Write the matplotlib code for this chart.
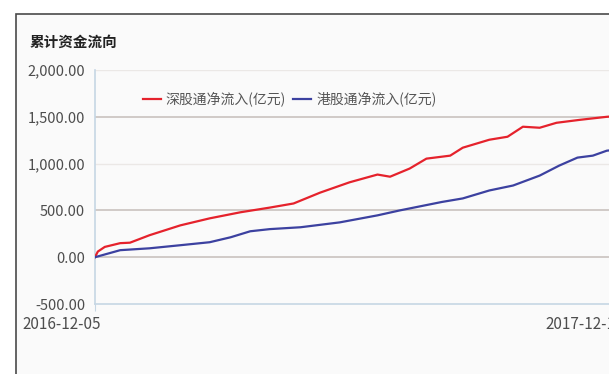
import pandas as pd
import matplotlib.pyplot as plt
from matplotlib.patches import Rectangle
from matplotlib.ticker import FuncFormatter

plt.rcParams['font.family'] = ['Noto Sans CJK SC', 'DejaVu Sans']

# 深股通 cumulative net inflow (亿元)
sz_dates = ['2016-12-05', '2016-12-07', '2016-12-12', '2016-12-23', '2016-12-30',
            '2017-01-13', '2017-02-04', '2017-02-25', '2017-03-19', '2017-04-09',
            '2017-04-26', '2017-05-15', '2017-06-05', '2017-06-25', '2017-07-04',
            '2017-07-18', '2017-07-30', '2017-08-16', '2017-08-25', '2017-09-13',
            '2017-09-26', '2017-10-07', '2017-10-19', '2017-10-31', '2017-11-17',
            '2017-12-06', '2017-12-14']
sz_values = [0, 60, 110, 150, 155, 235, 340, 415, 480, 530, 574, 690, 800, 883,
             860, 947, 1053, 1085, 1170, 1255, 1287, 1394, 1383, 1436, 1468, 1500,
             1510]

# 港股通 cumulative net inflow (亿元)
hk_dates = ['2016-12-05', '2016-12-23', '2017-01-13', '2017-02-04', '2017-02-25',
            '2017-03-12', '2017-03-26', '2017-04-09', '2017-05-01', '2017-05-29',
            '2017-06-25', '2017-07-11', '2017-08-10', '2017-08-25', '2017-09-13',
            '2017-09-30', '2017-10-19', '2017-11-02', '2017-11-15', '2017-11-26',
            '2017-12-06', '2017-12-14']
hk_values = [0, 75, 95, 128, 160, 213, 277, 300, 320, 372, 447, 500, 590, 628,
             713, 766, 872, 979, 1064, 1085, 1138, 1150]

title = '累计资金流向'
sz_label = '深股通净流入(亿元)'
hk_label = '港股通净流入(亿元)'
x_ticks = ['2016-12-05', '2017-12-14']
y_ticks = [-500, 0, 500, 1000, 1500, 2000]

W, H = 609, 374
fig = plt.figure(figsize=(W / 100, H / 100), dpi=100)
fig.patch.set_facecolor('white')

# outer panel frame (cut off at right and bottom)
fig.patches.append(Rectangle((16 / W, -0.1), 1.2, (H - 14) / H + 0.1,
                             transform=fig.transFigure, facecolor='#fafafa',
                             edgecolor='#4a4a4a', linewidth=1.2, zorder=-10))

fig.text(30 / W, 1 - 42 / H, title, fontsize=10.5, fontweight='bold',
         color='#222222', va='center', ha='left')

ax = fig.add_axes([95 / W, 1 - 304 / H, 523 / W, 234 / H])
ax.set_facecolor('none')

sz = pd.to_datetime(sz_dates)
hk = pd.to_datetime(hk_dates)
ax.plot(sz, sz_values, color='#e5222c', lw=1.6, label=sz_label, zorder=3)
ax.plot(hk, hk_values, color='#3c41a0', lw=1.6, label=hk_label, zorder=3)

ax.set_xlim(pd.Timestamp(x_ticks[0]), pd.Timestamp(x_ticks[1]))
ax.set_ylim(-500, 2000)

for v in y_ticks[1:]:
    strong = v in (0, 500, 1500)
    ax.axhline(v, color='#cdc7c3' if strong else '#ebe8e6',
               lw=1.3 if strong else 1.0, zorder=1)

ax.set_yticks(y_ticks)
ax.yaxis.set_major_formatter(FuncFormatter(lambda v, p: f'{v:,.2f}'))
ax.tick_params(axis='y', length=0, pad=7, labelsize=10.5, labelcolor='#4d4d4d')

# date labels hang right-aligned just past their tick
ax.set_xticks(pd.to_datetime(x_ticks))
ax.set_xticklabels([])
ax.tick_params(axis='x', length=5, color='#c6d6e4')
for d in x_ticks:
    ax.annotate(d, xy=(pd.Timestamp(d), 0), xycoords=('data', 'axes fraction'),
                xytext=(4.5, -8.5), textcoords='offset points', ha='right',
                va='top', fontsize=11, color='#4d4d4d', annotation_clip=False)

for s in ('top', 'right'):
    ax.spines[s].set_visible(False)
for s in ('left', 'bottom'):
    ax.spines[s].set_color('#c6d6e4')
    ax.spines[s].set_linewidth(1.2)

ax.legend(loc='center left', bbox_to_anchor=(130 / W, 1 - 99 / H),
          bbox_transform=fig.transFigure, ncol=2, frameon=False,
          handlelength=1.3, handletextpad=0.35, columnspacing=0.55,
          fontsize=10, labelcolor='#555555')

fig.savefig('out.png', dpi=100)
